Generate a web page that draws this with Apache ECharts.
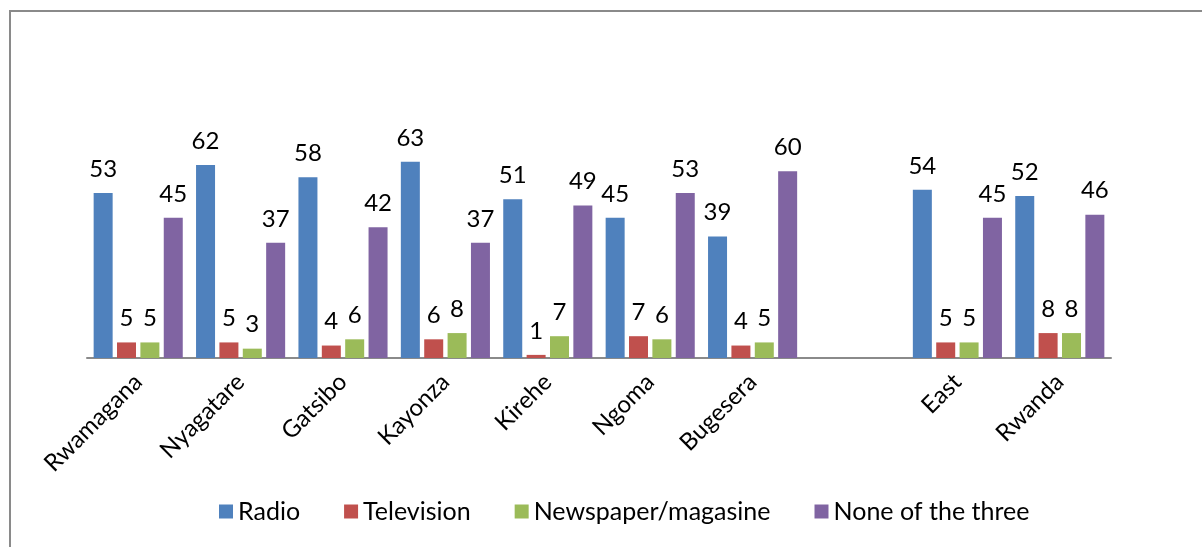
<!DOCTYPE html>
<html>
<head>
<meta charset="utf-8">
<script src="https://cdn.jsdelivr.net/npm/echarts@6/dist/echarts.min.js"></script>
<style>
html,body{margin:0;padding:0;background:#fff;}
#c{width:1202px;height:547px;}
</style>
</head>
<body>
<div id="c"></div>
<script>
const categories = ['Rwamagana','Nyagatare','Gatsibo','Kayonza','Kirehe','Ngoma','Bugesera','','East','Rwanda'];
const seriesNames = ['Radio','Television','Newspaper/magasine','None of the three'];
const radio = [53,62,58,63,51,45,39,null,54,52];
const television = [5,5,4,6,1,7,4,null,5,8];
const newspaper = [5,3,6,8,7,6,5,null,5,8];
const noneOfThree = [45,37,42,37,49,53,60,null,45,46];
const colors = ['#4F81BD','#C0504D','#9BBB59','#8064A2'];

const chart = echarts.init(document.getElementById('c'));
const font = 'Lato, "Open Sans", sans-serif';
const mk = (name, data, i) => ({
  name, type: 'bar', data,
  barWidth: 19, barGap: '23%',
  itemStyle: { color: colors[i] },
  label: { show: true, position: 'top', distance: 12, color: '#000', fontSize: 24, fontFamily: font },
  animation: false
});
chart.setOption({
  animation: false,
  graphic: [{ type: 'rect', shape: { x: 10, y: 11, width: 1200, height: 545 }, style: { fill: 'none', stroke: '#8a8a8a', lineWidth: 2 }, silent: true }],
  grid: { left: 87, right: 91, top: 140, bottom: 189 },
  legend: {
    bottom: 18, left: 214, itemWidth: 14, itemHeight: 14, itemGap: 44,
    icon: 'rect',
    textStyle: { fontSize: 25, fontFamily: font, color: '#000' },
    data: seriesNames
  },
  xAxis: {
    type: 'category', data: categories,
    axisLine: { lineStyle: { color: '#8a8a8a', width: 2 } },
    axisTick: { show: false },
    axisLabel: { rotate: 45, interval: 0, margin: 20, fontSize: 24, fontFamily: font, color: '#000' }
  },
  yAxis: { type: 'value', min: 0, max: 70, show: false, splitLine: { show: false } },
  series: [
    mk(seriesNames[0], radio, 0),
    mk(seriesNames[1], television, 1),
    mk(seriesNames[2], newspaper, 2),
    mk(seriesNames[3], noneOfThree, 3)
  ]
});
</script>
</body>
</html>
